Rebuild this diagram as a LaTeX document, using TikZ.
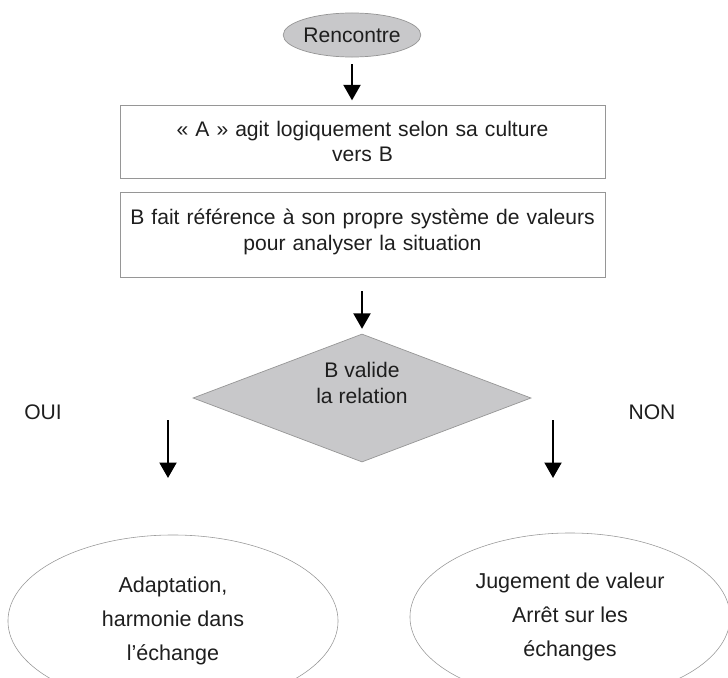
\documentclass[tikz,border=0pt]{standalone}
\usepackage{fontspec}
\setmainfont{Liberation Sans}
\usetikzlibrary{positioning, calc, shapes.geometric, arrows.meta}

\definecolor{shade}{RGB}{200,200,202}
\definecolor{edge}{RGB}{150,150,150}
\definecolor{ink}{RGB}{30,30,30}

\begin{document}
\begin{tikzpicture}[x=0.025cm, y=-0.025cm, font=\fontsize{15}{18.4}\selectfont, text=ink]
    % Define block styles
    \tikzstyle{block} = [rectangle, draw=edge, line width=0.6pt, text width=11.8cm, align=center, minimum width=12.125cm, inner sep=0pt]
    \tikzstyle{start} = [ellipse, draw=edge, fill=shade, line width=0.5pt, minimum width=3.3cm, minimum height=1.1cm, inner sep=0pt]
    \tikzstyle{decision} = [diamond, draw=edge, fill=shade, line width=0.5pt, aspect=2.6, minimum width=8.45cm, minimum height=3.2cm, inner sep=0pt, align=center]
    \tikzstyle{outcome} = [ellipse, draw=edge, line width=0.4pt, align=center, inner sep=0pt, font=\fontsize{15.3}{24}\selectfont]
    \tikzstyle{arrow} = [-{Triangle[length=11pt, width=12pt]}, line width=1.7pt, black]

    \useasboundingbox (0,0) rectangle (728,677);

    % Place nodes
    \node [start] (meet) at (352,35) {Rencontre};
    \node [block, minimum height=1.825cm] (act) at (362.5,141.5) {« A » agit logiquement selon sa culture\\vers B};
    \node [block, minimum height=2.125cm, text depth=25pt] (judge) at (362.5,234.5) {B fait référence à son propre système de valeurs\\pour analyser la situation};
    \node [decision, text depth=22pt] (valid) at (362,398) {B valide\\la relation};
    \node [outcome, minimum width=8.25cm, minimum height=4.3cm] (adapt) at (173,621) {Adaptation,\\harmonie dans\\l’échange};
    \node [outcome, minimum width=8cm, minimum height=4.2cm] (stop) at (570,617) {Jugement de valeur\\Arrêt sur les\\échanges};
    \node (yes) at (43,412) {OUI};
    \node (no) at (652,412) {NON};
    \coordinate (yesarrow) at (168,420);
    \coordinate (noarrow) at (553,420);

    % Draw connections as arrows
    \draw [arrow, shorten <=5pt, shorten >=3pt] (meet) -- (meet |- act.north);
    \draw [arrow, shorten <=0.35cm, shorten >=0.12cm] (judge.south -| valid) -- (valid.north);
    \draw [arrow] (yesarrow) -- ($(yesarrow)+(0,58)$);
    \draw [arrow] (noarrow) -- ($(noarrow)+(0,58)$);

\end{tikzpicture}
\end{document}
